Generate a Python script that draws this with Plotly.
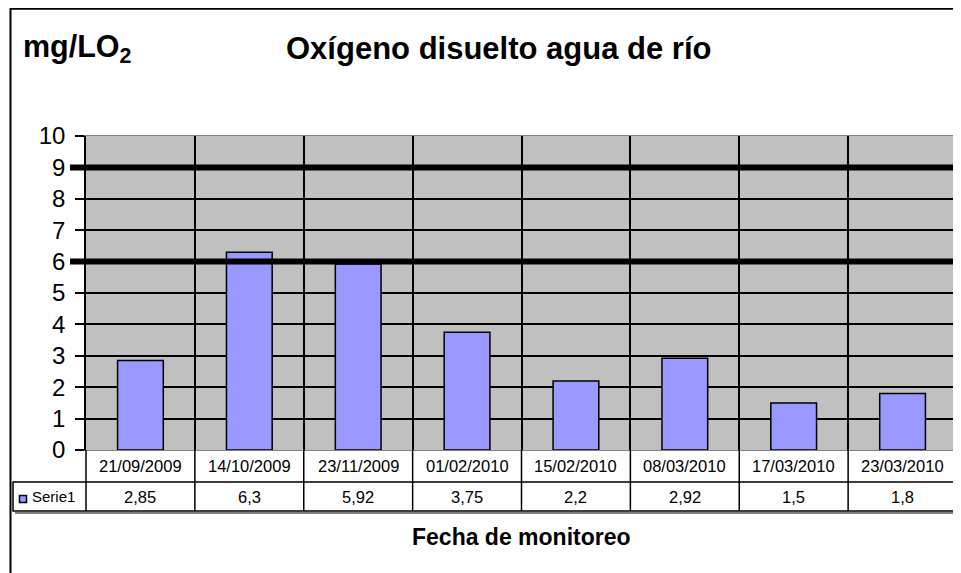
import plotly.graph_objects as go

fechas = ["21/09/2009", "14/10/2009", "23/11/2009", "01/02/2010",
          "15/02/2010", "08/03/2010", "17/03/2010", "23/03/2010"]
valores = [2.85, 6.3, 5.92, 3.75, 2.2, 2.92, 1.5, 1.8]
valores_txt = ["2,85", "6,3", "5,92", "3,75", "2,2", "2,92", "1,5", "1,8"]
limites = [6, 9]
serie = "Serie1"
titulo = "Oxígeno disuelto agua de río"
unidad = "mg/LO<sub>2</sub>"
eje_x = "Fecha de monitoreo"

W, H = 961, 573
OFF = 8  # page body margin: figure origin sits at (8, 8) in the window
def px(x): return (x - OFF) / W
def py(y): return 1 - (y - OFF) / H

FONT = "Liberation Sans, Arial, sans-serif"

fig = go.Figure()
fig.add_trace(go.Bar(x=fechas, y=valores, width=0.42,
                     marker=dict(color="#9999FF", line=dict(color="black", width=1.5)),
                     showlegend=False, hoverinfo="x+y"))

shapes = []
annotations = []

# outer border
shapes.append(dict(type="rect", xref="paper", yref="paper",
                   x0=px(10.5), x1=px(990), y0=py(8.8), y1=py(600),
                   line=dict(color="black", width=2), layer="below"))

# threshold lines
for v in limites:
    shapes.append(dict(type="line", xref="paper", yref="y",
                       x0=px(70), x1=1.0, y0=v, y1=v,
                       line=dict(color="black", width=6)))

# data table (with a soft shadow on the right edge)
row1_top, row1_bot, row2_bot = 450, 482, 511
n = len(fechas)
shapes.append(dict(type="line", xref="paper", yref="paper",
                   x0=px(959), x1=px(959), y0=py(row1_top + 2), y1=py(row2_bot + 2),
                   line=dict(color="#808080", width=2)))
shapes.append(dict(type="line", xref="paper", yref="paper",
                   x0=px(15), x1=px(959), y0=py(row2_bot + 2), y1=py(row2_bot + 2),
                   line=dict(color="#808080", width=2)))
shapes.append(dict(type="rect", xref="paper", yref="paper",
                   x0=px(13), x1=px(957), y0=py(row1_bot), y1=py(row2_bot),
                   line=dict(color="black", width=1.5), fillcolor="white"))
shapes.append(dict(type="line", xref="paper", yref="paper",
                   x0=px(86), x1=px(86), y0=py(row1_top), y1=py(row2_bot),
                   line=dict(color="black", width=1.5)))
shapes.append(dict(type="line", xref="paper", yref="paper",
                   x0=px(957), x1=px(957), y0=py(row1_top), y1=py(row2_bot),
                   line=dict(color="black", width=1.5)))
for i in range(1, n):
    shapes.append(dict(type="line", xref="x", yref="paper",
                       x0=i - 0.5, x1=i - 0.5, y0=py(row1_top), y1=py(row2_bot),
                       line=dict(color="black", width=1.5)))
for i, (f, t) in enumerate(zip(fechas, valores_txt)):
    annotations.append(dict(x=i, y=py((row1_top + row1_bot) / 2), xref="x", yref="paper",
                            text=f, showarrow=False, xanchor="center", yanchor="middle",
                            font=dict(family=FONT, size=16.5, color="black")))
    annotations.append(dict(x=i, y=py((row1_bot + row2_bot) / 2), xref="x", yref="paper",
                            text=t, showarrow=False, xanchor="center", yanchor="middle",
                            font=dict(family=FONT, size=16.5, color="black")))
# legend key
shapes.append(dict(type="rect", xref="paper", yref="paper",
                   x0=px(19.5), x1=px(26.5), y0=py(495.5), y1=py(502.5),
                   fillcolor="#9999FF", line=dict(color="black", width=1.5)))
annotations.append(dict(x=px(30), y=py((row1_bot + row2_bot) / 2), xref="paper", yref="paper",
                        text=serie, showarrow=False, xanchor="left", yanchor="middle",
                        font=dict(family=FONT, size=15, color="black")))

# titles
annotations.append(dict(x=px(498), y=py(49), xref="paper", yref="paper", text=titulo,
                        showarrow=False, xanchor="center", yanchor="middle",
                        font=dict(family=FONT, size=31, color="black", weight="bold")))
annotations.append(dict(x=px(21), y=py(48), xref="paper", yref="paper", text=unidad,
                        showarrow=False, xanchor="left", yanchor="middle",
                        font=dict(family=FONT, size=30.5, color="black", weight="bold")))
annotations.append(dict(x=px(521), y=py(537), xref="paper", yref="paper", text=eje_x,
                        showarrow=False, xanchor="center", yanchor="middle",
                        font=dict(family=FONT, size=23, color="black", weight="bold")))

fig.update_layout(
    width=W, height=H,
    margin=dict(l=0, r=0, t=0, b=0, pad=0, autoexpand=False),
    paper_bgcolor="white", plot_bgcolor="#C0C0C0",
    xaxis=dict(domain=[px(86), px(957)], type="category", tickson="boundaries",
               showticklabels=False, ticks="", showgrid=True, gridcolor="black",
               gridwidth=1.5, showline=True, linecolor="#808080", linewidth=1,
               mirror=True, zeroline=False, automargin=False),
    yaxis=dict(domain=[py(450), py(136)], range=[0, 10], dtick=1, tick0=0,
               showgrid=True, gridcolor="black", gridwidth=1.5,
               ticks="outside", ticklen=9, tickwidth=1.5, tickcolor="black",
               ticklabelstandoff=5,
               tickfont=dict(family=FONT, size=24, color="black"),
               showline=True, linecolor="black", linewidth=1.5, zeroline=False,
               automargin=False),
    shapes=shapes, annotations=annotations,
)

fig.write_html("out.html")
